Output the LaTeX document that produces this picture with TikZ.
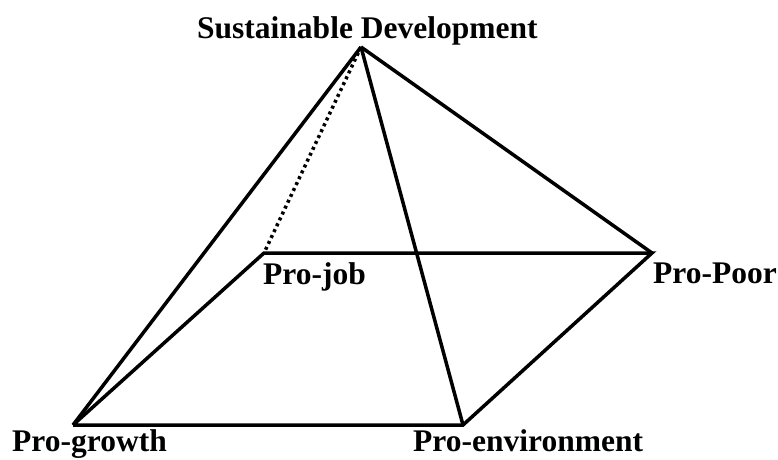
\documentclass[tikz,border=0pt]{standalone}
\usepackage{fontspec}
\setmainfont{Liberation Serif}
\usepackage{tikz}

\tikzset{
  edge/.style={black, line width=3.5pt, line join=miter},
  hidden/.style={black, line width=3.5pt, dash pattern=on 3pt off 3.5pt},
  corner/.style={inner sep=0pt, font=\fontsize{31.5}{36}\selectfont\bfseries},
}

\begin{document}
\begin{tikzpicture}[x=1pt,y=1pt]
        \useasboundingbox (0,0) rectangle (778,459);
        % apex and base of the pyramid
        \coordinate (sd) at (361,412);
        \coordinate (job) at (264,206);
        \coordinate (poor) at (652,206);
        \coordinate (growth) at (73,34);
        \coordinate (env) at (463,34);

        \node[corner, anchor=base west] (sdlab) at (197,420) {Sustainable Development};
        \node[corner, anchor=base west] (joblab) at (263,175) {Pro-job};
        \node[corner, anchor=base west] (poorlab) at (653,176) {Pro-Poor};
        \node[corner, anchor=base west] (growthlab) at (12,8) {Pro-growth};
        \node[corner, anchor=base west] (envlab) at (413,8) {Pro-environment};

        % base
        \draw [edge] (growth) -- (env) -- (poor) -- (job) -- (growth);

        % sides
        \draw [edge] (sd) -- (growth);
        \draw [edge] (sd) -- (env);
        \draw [edge] (sd) -- (poor);
        \draw [hidden] (sd) -- (job);
    \end{tikzpicture}
\end{document}
